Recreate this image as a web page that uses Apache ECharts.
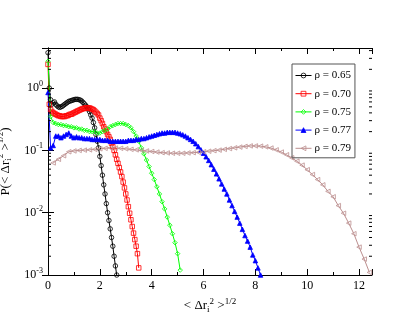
<!DOCTYPE html>
<html>
<head>
<meta charset="utf-8">
<script src="https://cdn.jsdelivr.net/npm/echarts@6/dist/echarts.min.js"></script>
<style>
  html, body { margin: 0; padding: 0; background: #fff; }
  #chart { width: 419px; height: 324px; }
</style>
</head>
<body>
<div id="chart"></div>
<script>
// legend labels
var seriesNames = ['ρ = 0.65', 'ρ = 0.70', 'ρ = 0.75', 'ρ = 0.77', 'ρ = 0.79'];

// bin start and bin width of each histogram
var binStart = [0, 0, 0, 0, 0.2];
var binStep = [0.05, 0.05, 0.1, 0.1, 0.2];

// P values
var rho065 = [3.7, 1.0, 0.65, 0.55, 0.58, 0.60, 0.55, 0.52, 0.50, 0.49,
  0.50, 0.51, 0.53, 0.55, 0.57, 0.59, 0.61, 0.62, 0.63, 0.64,
  0.65, 0.66, 0.66, 0.66, 0.65, 0.64, 0.62, 0.59, 0.56, 0.53,
  0.50, 0.46, 0.42, 0.37, 0.33, 0.28, 0.23, 0.18, 0.14, 0.11,
  0.08, 0.057, 0.040, 0.028, 0.020, 0.014, 0.010, 0.0075, 0.0055, 0.0040,
  0.0029, 0.0020, 0.0014, 0.0010];
var rho070 = [2.4, 0.55, 0.45, 0.42, 0.40, 0.39, 0.38, 0.37, 0.36, 0.36,
  0.35, 0.35, 0.35, 0.35, 0.36, 0.36, 0.37, 0.38, 0.38, 0.39,
  0.40, 0.41, 0.42, 0.43, 0.44, 0.45, 0.46, 0.47, 0.47, 0.48,
  0.48, 0.48, 0.48, 0.47, 0.46, 0.45, 0.43, 0.41, 0.39, 0.37,
  0.33, 0.30, 0.27, 0.24, 0.22, 0.20, 0.18, 0.165, 0.15, 0.13,
  0.115, 0.10, 0.085, 0.072, 0.062, 0.053, 0.045, 0.038, 0.031, 0.025,
  0.020, 0.016, 0.0125, 0.0098, 0.0077, 0.0060, 0.0047, 0.0037, 0.0029, 0.0022,
  0.0013];
var rho075 = [2.7, 0.35, 0.28, 0.27, 0.26, 0.26, 0.25, 0.25, 0.24, 0.24,
  0.23, 0.23, 0.22, 0.22, 0.21, 0.21, 0.20, 0.20, 0.20, 0.19,
  0.19, 0.20, 0.21, 0.22, 0.24, 0.25, 0.26, 0.27, 0.27, 0.27,
  0.26, 0.25, 0.23, 0.20, 0.17, 0.14, 0.11, 0.088, 0.070, 0.055,
  0.043, 0.034, 0.026, 0.020, 0.015, 0.0115, 0.0085, 0.0063, 0.0046, 0.0033,
  0.0022, 0.0012];
var rho077 = [0.85, 0.11, 0.12, 0.17, 0.17, 0.16, 0.17, 0.18, 0.19, 0.17,
  0.16, 0.165, 0.16, 0.16, 0.155, 0.155, 0.155, 0.15, 0.15, 0.15,
  0.15, 0.145, 0.145, 0.145, 0.14, 0.14, 0.14, 0.14, 0.14, 0.14,
  0.14, 0.145, 0.145, 0.145, 0.15, 0.15, 0.155, 0.155, 0.16, 0.165,
  0.17, 0.175, 0.18, 0.185, 0.19, 0.19, 0.195, 0.195, 0.195, 0.195,
  0.19, 0.185, 0.178, 0.17, 0.16, 0.15, 0.14, 0.128, 0.115, 0.102,
  0.090, 0.079, 0.069, 0.059, 0.050, 0.042, 0.035, 0.029, 0.024, 0.020,
  0.016, 0.013, 0.0105, 0.0085, 0.0068, 0.0054, 0.0043, 0.0035, 0.0028, 0.0021,
  0.0017, 0.0013, 0.0010];
var rho079 = [0.063, 0.072, 0.082, 0.095, 0.098, 0.100, 0.101, 0.102, 0.104, 0.106,
  0.108, 0.110, 0.109, 0.108, 0.106, 0.104, 0.102, 0.100, 0.098, 0.096,
  0.094, 0.092, 0.091, 0.090, 0.090, 0.090, 0.091, 0.092, 0.093, 0.095,
  0.097, 0.099, 0.101, 0.104, 0.107, 0.110, 0.113, 0.116, 0.118, 0.118,
  0.117, 0.114, 0.109, 0.102, 0.094, 0.085, 0.076, 0.067, 0.058, 0.049,
  0.041, 0.034, 0.028, 0.022, 0.018, 0.013, 0.0098, 0.0068, 0.0046, 0.0028,
  0.0018, 0.0011];

var allValues = [rho065, rho070, rho075, rho077, rho079];

// minor tick values on the log axis
var yMinorTicks = [0.002, 0.003, 0.004, 0.005, 0.006, 0.007, 0.008, 0.009,
  0.02, 0.03, 0.04, 0.05, 0.06, 0.07, 0.08, 0.09,
  0.2, 0.3, 0.4, 0.5, 0.6, 0.7, 0.8, 0.9,
  2, 3, 4];

var colors = ['#000000', '#ff0000', '#00ff00', '#0000ff', '#bc8f8f'];
var symbols = ['circle', 'rect', 'diamond', 'triangle', 'triangle'];
var symbolRot = [0, 0, 0, 0, 90];
var filled = [false, false, false, true, false];

var font = 'Liberation Serif';
var xMax = 12.5, yMin = 0.001, yMax = 4.4;

var myChart = echarts.init(document.getElementById('chart'));

var series = allValues.map(function (vals, k) {
  return {
    name: seriesNames[k],
    type: 'line',
    data: vals.map(function (v, i) {
      return [+(binStart[k] + i * binStep[k]).toFixed(3), v];
    }),
    symbol: symbols[k],
    symbolRotate: symbolRot[k],
    symbolSize: 4.5,
    showSymbol: true,
    color: colors[k],
    lineStyle: { color: colors[k], width: 1 },
    itemStyle: {
      color: filled[k] ? colors[k] : 'rgba(255,255,255,0)',
      borderColor: colors[k],
      borderWidth: 0.8
    },
    emphasis: { disabled: true },
    z: 3
  };
});

// short ticks at 2..9 of each decade, on both vertical edges
series.push({
  type: 'custom',
  silent: true,
  data: yMinorTicks.map(function (v) { return [0, v]; }),
  renderItem: function (params, api) {
    var v = api.value(1);
    var l = api.coord([0, v]);
    var r = api.coord([xMax, v]);
    var st = { stroke: '#000', lineWidth: 1 };
    return {
      type: 'group',
      children: [
        { type: 'line', shape: { x1: l[0], y1: l[1], x2: l[0] + 3, y2: l[1] }, style: st },
        { type: 'line', shape: { x1: r[0], y1: r[1], x2: r[0] - 3, y2: r[1] }, style: st }
      ]
    };
  },
  z: 4
});

function logLabel(v) {
  var e = Math.log10(v);
  if (Math.abs(e - Math.round(e)) > 1e-6) return '';
  return '{b|10}{s|' + Math.round(e) + '}';
}

var textRich = {
  t: { fontFamily: font, fontSize: 13, color: '#000' },
  sup: { fontFamily: font, fontSize: 9, color: '#000', padding: [0, 0, 9, 0] },
  sub: { fontFamily: font, fontSize: 9, color: '#000', padding: [7, 0, 0, 0] }
};

var axisLineStyle = { lineStyle: { color: '#000', width: 1 } };

var option = {
  animation: false,
  backgroundColor: '#fff',
  grid: {
    left: 48, top: 48, right: 47, bottom: 49,
    containLabel: false,
    outerBoundsMode: 'none'
  },
  legend: {
    data: seriesNames,
    orient: 'vertical',
    left: 292,
    top: 64,
    padding: [6, 4, 4, 3],
    itemGap: 7.2,
    itemWidth: 16,
    itemHeight: 6,
    borderColor: '#555',
    borderWidth: 1,
    lineStyle: { width: 1 },
    itemStyle: { borderWidth: 0.8 },
    textStyle: { fontFamily: font, fontSize: 11, color: '#000', padding: [0, 0, 0, -2] }
  },
  xAxis: [{
    type: 'value',
    min: 0,
    max: xMax,
    interval: 2,
    name: '{t|< Δr}{sub|i}{sup|2}{t| >}{sup|1/2}',
    nameLocation: 'middle',
    nameGap: 17,
    nameTextStyle: { rich: textRich },
    axisLine: axisLineStyle,
    axisTick: { inside: true, length: 6, lineStyle: { color: '#000' } },
    minorTick: { show: true, splitNumber: 2, length: 3, lineStyle: { color: '#000' } },
    splitLine: { show: false },
    axisLabel: {
      fontFamily: font, fontSize: 12, color: '#000', margin: 5,
      formatter: function (v) { return v % 2 === 0 ? String(v) : ''; }
    }
  }, {
    type: 'value',
    position: 'top',
    min: 0,
    max: xMax,
    interval: 2,
    axisLine: axisLineStyle,
    axisTick: { inside: true, length: 6, lineStyle: { color: '#000' } },
    minorTick: { show: true, splitNumber: 2, length: 3, lineStyle: { color: '#000' } },
    splitLine: { show: false },
    axisLabel: { show: false }
  }],
  yAxis: [{
    type: 'log',
    logBase: 10,
    min: yMin,
    max: yMax,
    name: '{t|P(< Δr}{sub|i}{sup|2}{t| >}{sup|1/2}{t|)}',
    nameLocation: 'middle',
    nameRotate: 90,
    nameGap: 27,
    nameTextStyle: { rich: textRich },
    axisLine: axisLineStyle,
    axisTick: { inside: true, length: 6, lineStyle: { color: '#000' } },
    splitLine: { show: false },
    axisLabel: {
      margin: 5,
      formatter: logLabel,
      rich: {
        b: { fontFamily: font, fontSize: 12, color: '#000' },
        s: { fontFamily: font, fontSize: 8, color: '#000', padding: [0, 0, 8, 0] }
      }
    }
  }, {
    type: 'log',
    logBase: 10,
    position: 'right',
    min: yMin,
    max: yMax,
    axisLine: axisLineStyle,
    axisTick: { inside: true, length: 6, lineStyle: { color: '#000' } },
    splitLine: { show: false },
    axisLabel: { show: false }
  }],
  series: series
};

myChart.setOption(option);
</script>
</body>
</html>
